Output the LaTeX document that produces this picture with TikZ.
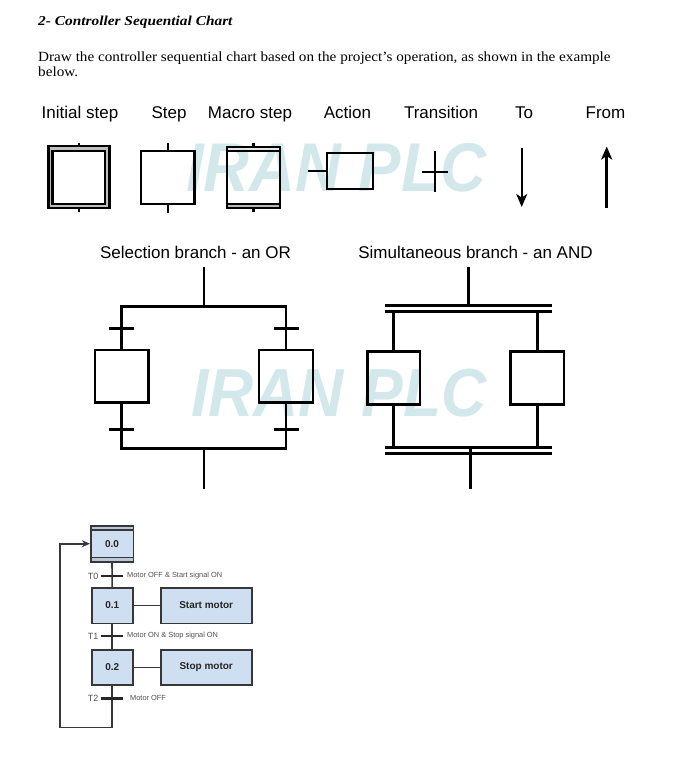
\documentclass[tikz,border=0pt]{standalone}
\usepackage{fontspec}
\setmainfont{Liberation Serif}
\setsansfont{Liberation Sans}
\usetikzlibrary{arrows.meta}
\definecolor{wm}{RGB}{211,232,234}
\definecolor{stepblue}{RGB}{206,223,241}
\definecolor{bandblue}{RGB}{184,200,216}
\definecolor{sfcdk}{RGB}{55,55,55}
\definecolor{sfctx}{RGB}{80,80,80}
\tikzset{
  lbl/.style={anchor=base, inner sep=0pt, font=\sffamily\fontsize{17}{20}\selectfont},
  symbox/.style={draw, line width=2.4pt, inner sep=0pt},
  symline/.style={line width=2.4pt},
  brline/.style={line width=2.6pt},
  barline/.style={line width=3pt},
  sfcstep/.style={draw=sfcdk, fill=stepblue, line width=1.6pt, inner sep=0pt, text=black!85, font=\sffamily\bfseries\fontsize{10}{12}\selectfont},
  sfcline/.style={draw=sfcdk, line width=1.6pt},
  sfctick/.style={draw=black!85, line width=2.4pt},
  tlabel/.style={inner sep=0pt, text=sfctx, font=\sffamily\fontsize{9}{10}\selectfont},
  tdesc/.style={inner sep=0pt, text=sfctx, font=\sffamily\fontsize{7.4}{9}\selectfont},
}
\begin{document}
\begin{tikzpicture}[x=1pt,y=-1pt]
\useasboundingbox (0,0) rectangle (675,760);
% watermarks
\node[anchor=base west, inner sep=0pt, text=wm, font=\sffamily\bfseries\itshape\fontsize{69}{69}\selectfont, xscale=0.92] (wmA) at (186,191.5) {IRAN PLC};
\node[anchor=base west, inner sep=0pt, text=wm, font=\sffamily\bfseries\itshape\fontsize{68}{68}\selectfont, xscale=0.92] (wmB) at (191,416.7) {IRAN PLC};
% heading and text
\node[anchor=base west, inner sep=0pt, font=\bfseries\itshape\fontsize{13.6}{16}\selectfont, xscale=1.13] (title) at (38,25.5) {2- Controller Sequential Chart};
\node[anchor=base west, inner sep=0pt, font=\fontsize{14}{16}\selectfont, xscale=1.085] (body1) at (38,62) {Draw the controller sequential chart based on the project’s operation, as shown in the example};
\node[anchor=base west, inner sep=0pt, font=\fontsize{14}{16}\selectfont, xscale=1.085] (body2) at (38,76) {below.};
% symbol labels
\node[lbl] (lInit) at (80,118.3) {Initial step};
\node[lbl] (lStep) at (169,118.3) {Step};
\node[lbl] (lMacro) at (250,118.3) {Macro step};
\node[lbl] (lAct) at (347.5,118.3) {Action};
\node[lbl] (lTr) at (441,118.3) {Transition};
\node[lbl] (lTo) at (524,118.3) {To};
\node[lbl] (lFrom) at (605.5,118.3) {From};
% initial step
\node[symbox, fill=black!25, minimum width=61pt, minimum height=61.7pt] (init) at (78.8,176.9) {};
\node[symbox, fill=white, minimum width=52.6pt, minimum height=53.3pt] (initIn) at (78.8,177.35) {};
\coordinate (initT) at (78.8,142.5);
\coordinate (initB) at (78.8,212);
\draw[symline] (initT) -- (init.north);
\draw[symline] (init.south) -- (initB);
% step
\node[symbox, minimum width=53.3pt, minimum height=52.7pt] (step) at (167.7,177.35) {};
\coordinate (stepT) at (167.7,142.5);
\coordinate (stepB) at (167.7,213);
\draw[symline] (stepT) -- (step.north);
\draw[symline] (step.south) -- (stepB);
% macro step
\fill[black!10] (226.7,146.7) rectangle (280,150.7);
\fill[black!28] (226.7,204) rectangle (280,207.7);
\node[symbox, minimum width=53.3pt, minimum height=61pt] (macro) at (253.35,177.2) {};
\draw[symline] (macro.west |- 0,150.7) -- (macro.east |- 0,150.7);
\draw[symline] (macro.west |- 0,204) -- (macro.east |- 0,204);
\coordinate (macroT) at (253.35,142.5);
\coordinate (macroB) at (253.35,212);
\draw[symline] (macroT) -- (macro.north);
\draw[symline] (macro.south) -- (macroB);
% action
\node[draw, line width=2.2pt, inner sep=0pt, minimum width=46pt, minimum height=35.5pt] (act) at (350.3,171) {};
\coordinate (actL) at (308.3,171);
\draw[line width=2.2pt] (actL) -- (act.west);
% transition
\coordinate (trT) at (435,150.7);
\coordinate (trB) at (435,192.3);
\coordinate (trL) at (421.7,171.7);
\coordinate (trR) at (448.3,171.7);
\draw[line width=2pt] (trT) -- (trB);
\draw[line width=2pt] (trL) -- (trR);
% to / from
\coordinate (toA) at (521.7,148);
\coordinate (toB) at (521.7,207);
\draw[line width=1.8pt, -{Stealth[length=13pt,width=11pt,inset=3.5pt]}] (toA) -- (toB);
\coordinate (frA) at (606.7,207.5);
\coordinate (frB) at (606.7,146.5);
\draw[line width=2.6pt, -{Stealth[length=13pt,width=11pt,inset=3.5pt]}] (frA) -- (frB);
% selection branch
\node[lbl] (lOr) at (195.5,258.5) {Selection branch - an OR};
\node[symbox, line width=2.6pt, minimum width=53.3pt, minimum height=52.7pt] (orA) at (121.7,376.35) {};
\node[symbox, line width=2.6pt, minimum width=54pt, minimum height=52.7pt] (orB) at (286,376.35) {};
\coordinate (orTop) at (204,266.7);
\coordinate (orJ) at (204,306.7);
\coordinate (orBot) at (204,448.3);
\coordinate (orEnd) at (204,489);
\draw[brline] (orTop) -- (orJ);
\draw[brline] (orA.north) -- (orA.north |- orJ) -- (orB.north |- orJ) -- (orB.north);
\draw[brline] (orA.south) -- (orA.south |- orBot) -- (orB.south |- orBot) -- (orB.south);
\draw[brline] (orBot) -- (orEnd);
\coordinate (orAt) at (121.7,328.3);
\coordinate (orAb) at (121.7,429.3);
\coordinate (orBt) at (286,328.3);
\coordinate (orBb) at (286,429.3);
\draw[brline] ([xshift=-12.5pt]orAt) -- ([xshift=12.5pt]orAt);
\draw[brline] ([xshift=-12.5pt]orAb) -- ([xshift=12.5pt]orAb);
\draw[brline] ([xshift=-12.5pt]orBt) -- ([xshift=12.5pt]orBt);
\draw[brline] ([xshift=-12.5pt]orBb) -- ([xshift=12.5pt]orBb);
% simultaneous branch
\node[lbl] (lAnd) at (475.5,258.5) {Simultaneous branch - an AND};
\node[symbox, line width=2.6pt, minimum width=52.7pt, minimum height=52.6pt] (andA) at (393.65,378) {};
\node[symbox, line width=2.6pt, minimum width=53.3pt, minimum height=52.6pt] (andB) at (537.35,378) {};
\coordinate (andTop) at (468.3,266.7);
\coordinate (bar1L) at (385,305.5);
\coordinate (bar1R) at (551.7,305.5);
\coordinate (bar2L) at (385,311.2);
\coordinate (bar2R) at (551.7,311.2);
\coordinate (bar3L) at (385,447.3);
\coordinate (bar3R) at (551.7,447.3);
\coordinate (bar4L) at (385,453.5);
\coordinate (bar4R) at (551.7,453.5);
\coordinate (andBot) at (470.7,447.3);
\coordinate (andEnd) at (470.7,489);
\draw[brline] (andTop) -- (andTop |- bar1L);
\draw[barline] (bar1L) -- (bar1R);
\draw[barline] (bar2L) -- (bar2R);
\draw[brline] (andA.north |- bar2L) -- (andA.north);
\draw[brline] (andB.north |- bar2L) -- (andB.north);
\draw[brline] (andA.south) -- (andA.south |- bar3L);
\draw[brline] (andB.south) -- (andB.south |- bar3L);
\draw[brline] (andBot) -- (andEnd);
\draw[barline] (bar3L) -- (bar3R);
\draw[barline] (bar4L) -- (bar4R);
% example sequential chart
\node[sfcstep, minimum width=42.6pt, minimum height=36pt] (s0) at (112,543.7) {0.0};
\draw[sfcline, fill=bandblue] (90.7,525.7) rectangle (133.3,530);
\draw[sfcline, fill=bandblue] (90.7,557.4) rectangle (133.3,561.7);
\node[sfcstep, minimum width=41pt, minimum height=35.6pt] (s1) at (112.2,605.5) {0.1};
\node[sfcstep, minimum width=41pt, minimum height=35pt] (s2) at (112.2,667.5) {0.2};
\node[sfcstep, minimum width=91pt, minimum height=35.6pt] (a1) at (206.2,605.5) {Start motor};
\node[sfcstep, minimum width=91pt, minimum height=35pt] (a2) at (206.2,667.5) {Stop motor};
\draw[sfcline] (s1.east) -- (a1.west);
\draw[sfcline] (s2.east) -- (a2.west);
\draw[sfcline] (s0.south) -- (s1.north);
\draw[sfcline] (s1.south) -- (s2.north);
\coordinate (loopB) at (60,727.3);
\coordinate (loopT) at (60,543.7);
\draw[sfcline, -{Stealth[length=8pt,width=7pt]}] (s2.south) -- (s2.south |- loopB) -- (loopB) -- (loopT) -- (s0.west);
% transitions
\coordinate (t0) at (112,576);
\coordinate (t1) at (112,636);
\coordinate (t2) at (112,698.3);
\draw[sfctick] ([xshift=-11.3pt]t0) -- ([xshift=11.3pt]t0);
\draw[sfctick] ([xshift=-11.3pt]t1) -- ([xshift=11.3pt]t1);
\draw[sfctick] ([xshift=-11.3pt]t2) -- ([xshift=11.3pt]t2);
\node[tlabel, anchor=east] (t0l) at (98.5,576) {T0};
\node[tlabel, anchor=east] (t1l) at (98.5,636) {T1};
\node[tlabel, anchor=east] (t2l) at (98.5,698.3) {T2};
\node[tdesc, anchor=west] (t0d) at (127,576) {Motor OFF \& Start signal ON};
\node[tdesc, anchor=west] (t1d) at (127,636) {Motor ON \& Stop signal ON};
\node[tdesc, anchor=west] (t2d) at (130,698.3) {Motor OFF};
\end{tikzpicture}
\end{document}
